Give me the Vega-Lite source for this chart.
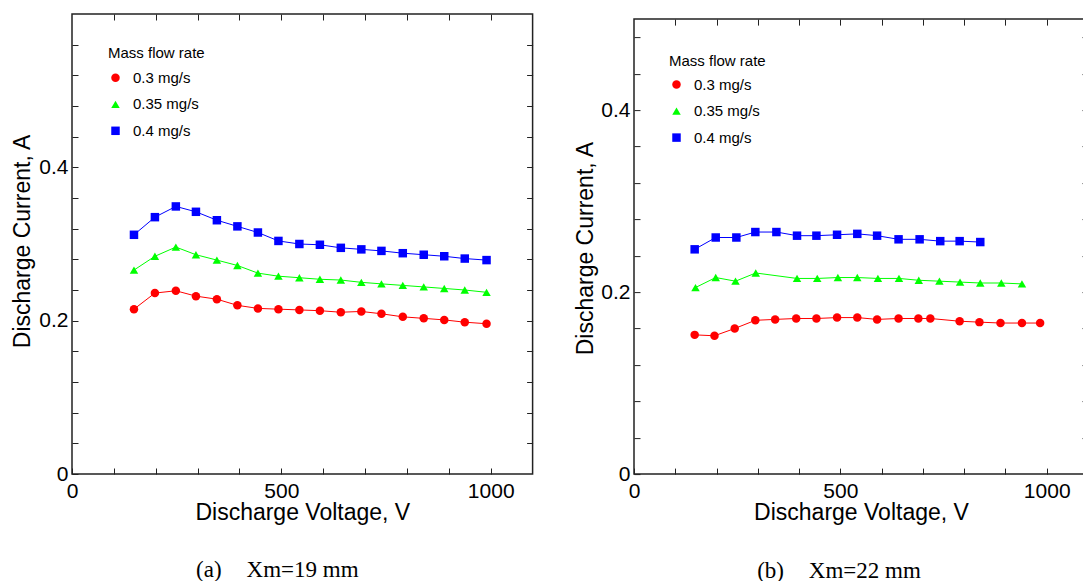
{
  "$schema": "https://vega.github.io/schema/vega-lite/v6.json",
  "padding": {"left": 10, "top": 12, "right": 0, "bottom": 0},
  "background": "white",
  "config": {
    "font": "Liberation Sans",
    "view": {"stroke": "#222", "strokeWidth": 1.5},
    "axis": {"grid": false, "domain": false, "tickColor": "#222", "tickWidth": 1, "labelColor": "black", "titleColor": "black", "labelFontSize": 21, "titleFontSize": 23, "titleFontWeight": "normal", "labelFont": "Liberation Sans", "titleFont": "Liberation Sans", "labelFlush": false},
    "legend": {"padding": 0, "titleFontSize": 15, "titleFontWeight": "normal", "titleColor": "black", "labelColor": "black", "labelFontSize": 15, "symbolSize": 72, "symbolStrokeWidth": 0, "rowPadding": 10.5, "titlePadding": 9.8, "labelOffset": 10},
    "title": {"font": "Liberation Serif", "fontSize": 23, "fontWeight": "normal", "color": "black"}
  },
  "datasets": {
    "pts": [
      {"panel": "a", "rate": "0.3 mg/s", "V": 148, "I": 0.215},
      {"panel": "a", "rate": "0.3 mg/s", "V": 198, "I": 0.236},
      {"panel": "a", "rate": "0.3 mg/s", "V": 248, "I": 0.239},
      {"panel": "a", "rate": "0.3 mg/s", "V": 296, "I": 0.232},
      {"panel": "a", "rate": "0.3 mg/s", "V": 346, "I": 0.228},
      {"panel": "a", "rate": "0.3 mg/s", "V": 395, "I": 0.220},
      {"panel": "a", "rate": "0.3 mg/s", "V": 444, "I": 0.216},
      {"panel": "a", "rate": "0.3 mg/s", "V": 493, "I": 0.215},
      {"panel": "a", "rate": "0.3 mg/s", "V": 543, "I": 0.214},
      {"panel": "a", "rate": "0.3 mg/s", "V": 592, "I": 0.213},
      {"panel": "a", "rate": "0.3 mg/s", "V": 642, "I": 0.211},
      {"panel": "a", "rate": "0.3 mg/s", "V": 691, "I": 0.212},
      {"panel": "a", "rate": "0.3 mg/s", "V": 739, "I": 0.209},
      {"panel": "a", "rate": "0.3 mg/s", "V": 790, "I": 0.205},
      {"panel": "a", "rate": "0.3 mg/s", "V": 840, "I": 0.203},
      {"panel": "a", "rate": "0.3 mg/s", "V": 889, "I": 0.201},
      {"panel": "a", "rate": "0.3 mg/s", "V": 938, "I": 0.198},
      {"panel": "a", "rate": "0.3 mg/s", "V": 990, "I": 0.196},
      {"panel": "a", "rate": "0.35 mg/s", "V": 148, "I": 0.266},
      {"panel": "a", "rate": "0.35 mg/s", "V": 198, "I": 0.284},
      {"panel": "a", "rate": "0.35 mg/s", "V": 248, "I": 0.296},
      {"panel": "a", "rate": "0.35 mg/s", "V": 296, "I": 0.286},
      {"panel": "a", "rate": "0.35 mg/s", "V": 346, "I": 0.279},
      {"panel": "a", "rate": "0.35 mg/s", "V": 395, "I": 0.272},
      {"panel": "a", "rate": "0.35 mg/s", "V": 444, "I": 0.262},
      {"panel": "a", "rate": "0.35 mg/s", "V": 493, "I": 0.258},
      {"panel": "a", "rate": "0.35 mg/s", "V": 543, "I": 0.256},
      {"panel": "a", "rate": "0.35 mg/s", "V": 592, "I": 0.254},
      {"panel": "a", "rate": "0.35 mg/s", "V": 642, "I": 0.253},
      {"panel": "a", "rate": "0.35 mg/s", "V": 691, "I": 0.250},
      {"panel": "a", "rate": "0.35 mg/s", "V": 739, "I": 0.248},
      {"panel": "a", "rate": "0.35 mg/s", "V": 790, "I": 0.246},
      {"panel": "a", "rate": "0.35 mg/s", "V": 840, "I": 0.244},
      {"panel": "a", "rate": "0.35 mg/s", "V": 889, "I": 0.242},
      {"panel": "a", "rate": "0.35 mg/s", "V": 938, "I": 0.240},
      {"panel": "a", "rate": "0.35 mg/s", "V": 990, "I": 0.237},
      {"panel": "a", "rate": "0.4 mg/s", "V": 148, "I": 0.312},
      {"panel": "a", "rate": "0.4 mg/s", "V": 198, "I": 0.335},
      {"panel": "a", "rate": "0.4 mg/s", "V": 248, "I": 0.349},
      {"panel": "a", "rate": "0.4 mg/s", "V": 296, "I": 0.342},
      {"panel": "a", "rate": "0.4 mg/s", "V": 346, "I": 0.331},
      {"panel": "a", "rate": "0.4 mg/s", "V": 395, "I": 0.323},
      {"panel": "a", "rate": "0.4 mg/s", "V": 444, "I": 0.315},
      {"panel": "a", "rate": "0.4 mg/s", "V": 493, "I": 0.304},
      {"panel": "a", "rate": "0.4 mg/s", "V": 543, "I": 0.300},
      {"panel": "a", "rate": "0.4 mg/s", "V": 592, "I": 0.299},
      {"panel": "a", "rate": "0.4 mg/s", "V": 642, "I": 0.295},
      {"panel": "a", "rate": "0.4 mg/s", "V": 691, "I": 0.293},
      {"panel": "a", "rate": "0.4 mg/s", "V": 739, "I": 0.291},
      {"panel": "a", "rate": "0.4 mg/s", "V": 790, "I": 0.288},
      {"panel": "a", "rate": "0.4 mg/s", "V": 840, "I": 0.286},
      {"panel": "a", "rate": "0.4 mg/s", "V": 889, "I": 0.284},
      {"panel": "a", "rate": "0.4 mg/s", "V": 938, "I": 0.281},
      {"panel": "a", "rate": "0.4 mg/s", "V": 990, "I": 0.279},
      {"panel": "b", "rate": "0.3 mg/s", "V": 147, "I": 0.153},
      {"panel": "b", "rate": "0.3 mg/s", "V": 195, "I": 0.152},
      {"panel": "b", "rate": "0.3 mg/s", "V": 244, "I": 0.160},
      {"panel": "b", "rate": "0.3 mg/s", "V": 294, "I": 0.169},
      {"panel": "b", "rate": "0.3 mg/s", "V": 342, "I": 0.170},
      {"panel": "b", "rate": "0.3 mg/s", "V": 393, "I": 0.171},
      {"panel": "b", "rate": "0.3 mg/s", "V": 442, "I": 0.171},
      {"panel": "b", "rate": "0.3 mg/s", "V": 492, "I": 0.172},
      {"panel": "b", "rate": "0.3 mg/s", "V": 541, "I": 0.172},
      {"panel": "b", "rate": "0.3 mg/s", "V": 589, "I": 0.170},
      {"panel": "b", "rate": "0.3 mg/s", "V": 641, "I": 0.171},
      {"panel": "b", "rate": "0.3 mg/s", "V": 689, "I": 0.171},
      {"panel": "b", "rate": "0.3 mg/s", "V": 718, "I": 0.171},
      {"panel": "b", "rate": "0.3 mg/s", "V": 789, "I": 0.168},
      {"panel": "b", "rate": "0.3 mg/s", "V": 837, "I": 0.167},
      {"panel": "b", "rate": "0.3 mg/s", "V": 888, "I": 0.166},
      {"panel": "b", "rate": "0.3 mg/s", "V": 940, "I": 0.166},
      {"panel": "b", "rate": "0.3 mg/s", "V": 984, "I": 0.166},
      {"panel": "b", "rate": "0.35 mg/s", "V": 149, "I": 0.205},
      {"panel": "b", "rate": "0.35 mg/s", "V": 198, "I": 0.216},
      {"panel": "b", "rate": "0.35 mg/s", "V": 246, "I": 0.212},
      {"panel": "b", "rate": "0.35 mg/s", "V": 295, "I": 0.221},
      {"panel": "b", "rate": "0.35 mg/s", "V": 395, "I": 0.215},
      {"panel": "b", "rate": "0.35 mg/s", "V": 444, "I": 0.215},
      {"panel": "b", "rate": "0.35 mg/s", "V": 494, "I": 0.216},
      {"panel": "b", "rate": "0.35 mg/s", "V": 541, "I": 0.216},
      {"panel": "b", "rate": "0.35 mg/s", "V": 591, "I": 0.215},
      {"panel": "b", "rate": "0.35 mg/s", "V": 642, "I": 0.215},
      {"panel": "b", "rate": "0.35 mg/s", "V": 690, "I": 0.213},
      {"panel": "b", "rate": "0.35 mg/s", "V": 740, "I": 0.212},
      {"panel": "b", "rate": "0.35 mg/s", "V": 790, "I": 0.211},
      {"panel": "b", "rate": "0.35 mg/s", "V": 839, "I": 0.210},
      {"panel": "b", "rate": "0.35 mg/s", "V": 890, "I": 0.210},
      {"panel": "b", "rate": "0.35 mg/s", "V": 940, "I": 0.209},
      {"panel": "b", "rate": "0.4 mg/s", "V": 147, "I": 0.247},
      {"panel": "b", "rate": "0.4 mg/s", "V": 198, "I": 0.260},
      {"panel": "b", "rate": "0.4 mg/s", "V": 248, "I": 0.260},
      {"panel": "b", "rate": "0.4 mg/s", "V": 294, "I": 0.266},
      {"panel": "b", "rate": "0.4 mg/s", "V": 345, "I": 0.266},
      {"panel": "b", "rate": "0.4 mg/s", "V": 395, "I": 0.262},
      {"panel": "b", "rate": "0.4 mg/s", "V": 442, "I": 0.262},
      {"panel": "b", "rate": "0.4 mg/s", "V": 492, "I": 0.263},
      {"panel": "b", "rate": "0.4 mg/s", "V": 541, "I": 0.264},
      {"panel": "b", "rate": "0.4 mg/s", "V": 589, "I": 0.262},
      {"panel": "b", "rate": "0.4 mg/s", "V": 641, "I": 0.258},
      {"panel": "b", "rate": "0.4 mg/s", "V": 692, "I": 0.258},
      {"panel": "b", "rate": "0.4 mg/s", "V": 742, "I": 0.256},
      {"panel": "b", "rate": "0.4 mg/s", "V": 789, "I": 0.256},
      {"panel": "b", "rate": "0.4 mg/s", "V": 839, "I": 0.255}
    ]
  },
  "spacing": 39,
  "columns": 2,
  "align": "none",
  "resolve": {
    "scale": {"x": "independent", "y": "independent", "color": "independent", "shape": "independent", "stroke": "independent"},
    "legend": {"color": "independent", "shape": "independent", "stroke": "independent"}
  },
  "concat": [
    {
      "width": 460.6,
      "height": 460,
      "data": {"name": "pts"},
      "transform": [{"filter": "datum.panel === 'a'"}],
      "title": {"text": "(a)\u2003\u200aXm=19 mm", "orient": "bottom", "anchor": "middle", "frame": "group", "dx": -25, "offset": 35},
      "layer": [
        {
          "mark": {"type": "line", "strokeWidth": 1},
          "encoding": {
            "x": {"field": "V", "type": "quantitative", "scale": {"domain": [0, 1100], "nice": false, "zero": false},
              "axis": {"orient": "bottom", "values": [0, 100, 200, 300, 400, 500, 600, 700, 800, 900, 1000], "format": "d", "labelExpr": "datum.value % 500 == 0 ? datum.label : ''", "tickSize": -6, "labelPadding": 12, "title": "Discharge Voltage, V", "titleY": 38, "titleBaseline": "middle"}},
            "y": {"field": "I", "type": "quantitative", "scale": {"domain": [0, 0.6], "nice": false},
              "axis": {"orient": "left", "values": [0, 0.04, 0.08, 0.12, 0.16, 0.2, 0.24, 0.28, 0.32, 0.36, 0.4, 0.44, 0.48, 0.52, 0.56], "format": "~g", "labelExpr": "datum.value == 0 || datum.value == 0.2 || datum.value == 0.4 ? datum.label : ''", "tickSize": -6, "labelPadding": 10, "title": "Discharge Current, A", "titleX": -50, "titleY": 227, "titleBaseline": "middle"}},
            "stroke": {"field": "rate", "type": "nominal", "scale": {"domain": ["0.4 mg/s", "0.35 mg/s", "0.3 mg/s"], "range": ["#0000ff", "#00ff00", "#ff0000"]}, "legend": null}
          }
        },
        {
          "mark": {"type": "point", "filled": true, "opacity": 1, "size": 72},
          "encoding": {
            "x": {"field": "V", "type": "quantitative", "scale": {"domain": [0, 1100], "nice": false, "zero": false},
              "axis": {"orient": "top", "values": [100, 200, 300, 400, 500, 600, 700, 800, 900, 1000], "labels": false, "tickSize": -6, "title": null}},
            "y": {"field": "I", "type": "quantitative", "scale": {"domain": [0, 0.6], "nice": false},
              "axis": {"orient": "right", "values": [0.04, 0.08, 0.12, 0.16, 0.2, 0.24, 0.28, 0.32, 0.36, 0.4, 0.44, 0.48, 0.52, 0.56], "labels": false, "tickSize": -6, "title": null}},
            "color": {"field": "rate", "type": "nominal", "scale": {"domain": ["0.3 mg/s", "0.35 mg/s", "0.4 mg/s"], "range": ["#ff0000", "#00ff00", "#0000ff"]},
              "legend": {"title": "Mass flow rate", "orient": "none", "legendX": 36, "legendY": 31.5}},
            "shape": {"field": "rate", "type": "nominal", "scale": {"domain": ["0.3 mg/s", "0.35 mg/s", "0.4 mg/s"], "range": ["circle", "triangle-up", "square"]},
              "legend": {"title": "Mass flow rate", "orient": "none", "legendX": 36, "legendY": 31.5}}
          }
        }
      ],
      "resolve": {"axis": {"x": "independent", "y": "independent"}}
    },
    {
      "spacing": 2.1,
      "resolve": {
        "scale": {"x": "independent", "y": "independent", "color": "independent", "shape": "independent", "stroke": "independent"},
        "legend": {"color": "independent", "shape": "independent", "stroke": "independent"}
      },
      "vconcat": [
        {
          "width": 454,
          "height": 1,
          "view": {"stroke": null, "fill": "white"},
          "data": {"values": []},
          "mark": {"type": "point", "opacity": 0},
          "encoding": {}
        },
        {
          "width": 454,
          "height": 455,
          "data": {"name": "pts"},
          "transform": [{"filter": "datum.panel === 'b'"}],
          "title": {"text": "(b)\u2003\u200aXm=22 mm", "orient": "bottom", "anchor": "middle", "frame": "group", "dx": -22, "offset": 35.5},
          "layer": [
            {
              "mark": {"type": "line", "strokeWidth": 1},
              "encoding": {
                "x": {"field": "V", "type": "quantitative", "scale": {"domain": [0, 1100], "nice": false, "zero": false},
                  "axis": {"orient": "bottom", "values": [0, 100, 200, 300, 400, 500, 600, 700, 800, 900, 1000], "format": "d", "labelExpr": "datum.value % 500 == 0 ? datum.label : ''", "tickSize": -6, "labelPadding": 12, "title": "Discharge Voltage, V", "titleY": 38, "titleBaseline": "middle"}},
                "y": {"field": "I", "type": "quantitative", "scale": {"domain": [0, 0.5], "nice": false},
                  "axis": {"orient": "left", "values": [0, 0.04, 0.08, 0.12, 0.16, 0.2, 0.24, 0.28, 0.32, 0.36, 0.4, 0.44, 0.48], "format": "~g", "labelExpr": "datum.value == 0 || datum.value == 0.2 || datum.value == 0.4 ? datum.label : ''", "tickSize": -6, "labelPadding": 10, "title": "Discharge Current, A", "titleX": -49, "titleY": 229, "titleBaseline": "middle"}},
                "stroke": {"field": "rate", "type": "nominal", "scale": {"domain": ["0.4 mg/s", "0.35 mg/s", "0.3 mg/s"], "range": ["#0000ff", "#00ff00", "#ff0000"]}, "legend": null}
              }
            },
            {
              "mark": {"type": "point", "filled": true, "opacity": 1, "size": 72},
              "encoding": {
                "x": {"field": "V", "type": "quantitative", "scale": {"domain": [0, 1100], "nice": false, "zero": false},
                  "axis": {"orient": "top", "values": [100, 200, 300, 400, 500, 600, 700, 800, 900, 1000], "labels": false, "tickSize": -6, "title": null}},
                "y": {"field": "I", "type": "quantitative", "scale": {"domain": [0, 0.5], "nice": false},
                  "axis": {"orient": "right", "values": [0.04, 0.08, 0.12, 0.16, 0.2, 0.24, 0.28, 0.32, 0.36, 0.4, 0.44, 0.48], "labels": false, "tickSize": -6, "title": null}},
                "color": {"field": "rate", "type": "nominal", "scale": {"domain": ["0.3 mg/s", "0.35 mg/s", "0.4 mg/s"], "range": ["#ff0000", "#00ff00", "#0000ff"]},
                  "legend": {"title": "Mass flow rate", "orient": "none", "legendX": 35, "legendY": 34.5, "titlePadding": 8.5}},
                "shape": {"field": "rate", "type": "nominal", "scale": {"domain": ["0.3 mg/s", "0.35 mg/s", "0.4 mg/s"], "range": ["circle", "triangle-up", "square"]},
                  "legend": {"title": "Mass flow rate", "orient": "none", "legendX": 35, "legendY": 34.5, "titlePadding": 8.5}}
              }
            }
          ],
          "resolve": {"axis": {"x": "independent", "y": "independent"}}
        }
      ]
    }
  ]
}
